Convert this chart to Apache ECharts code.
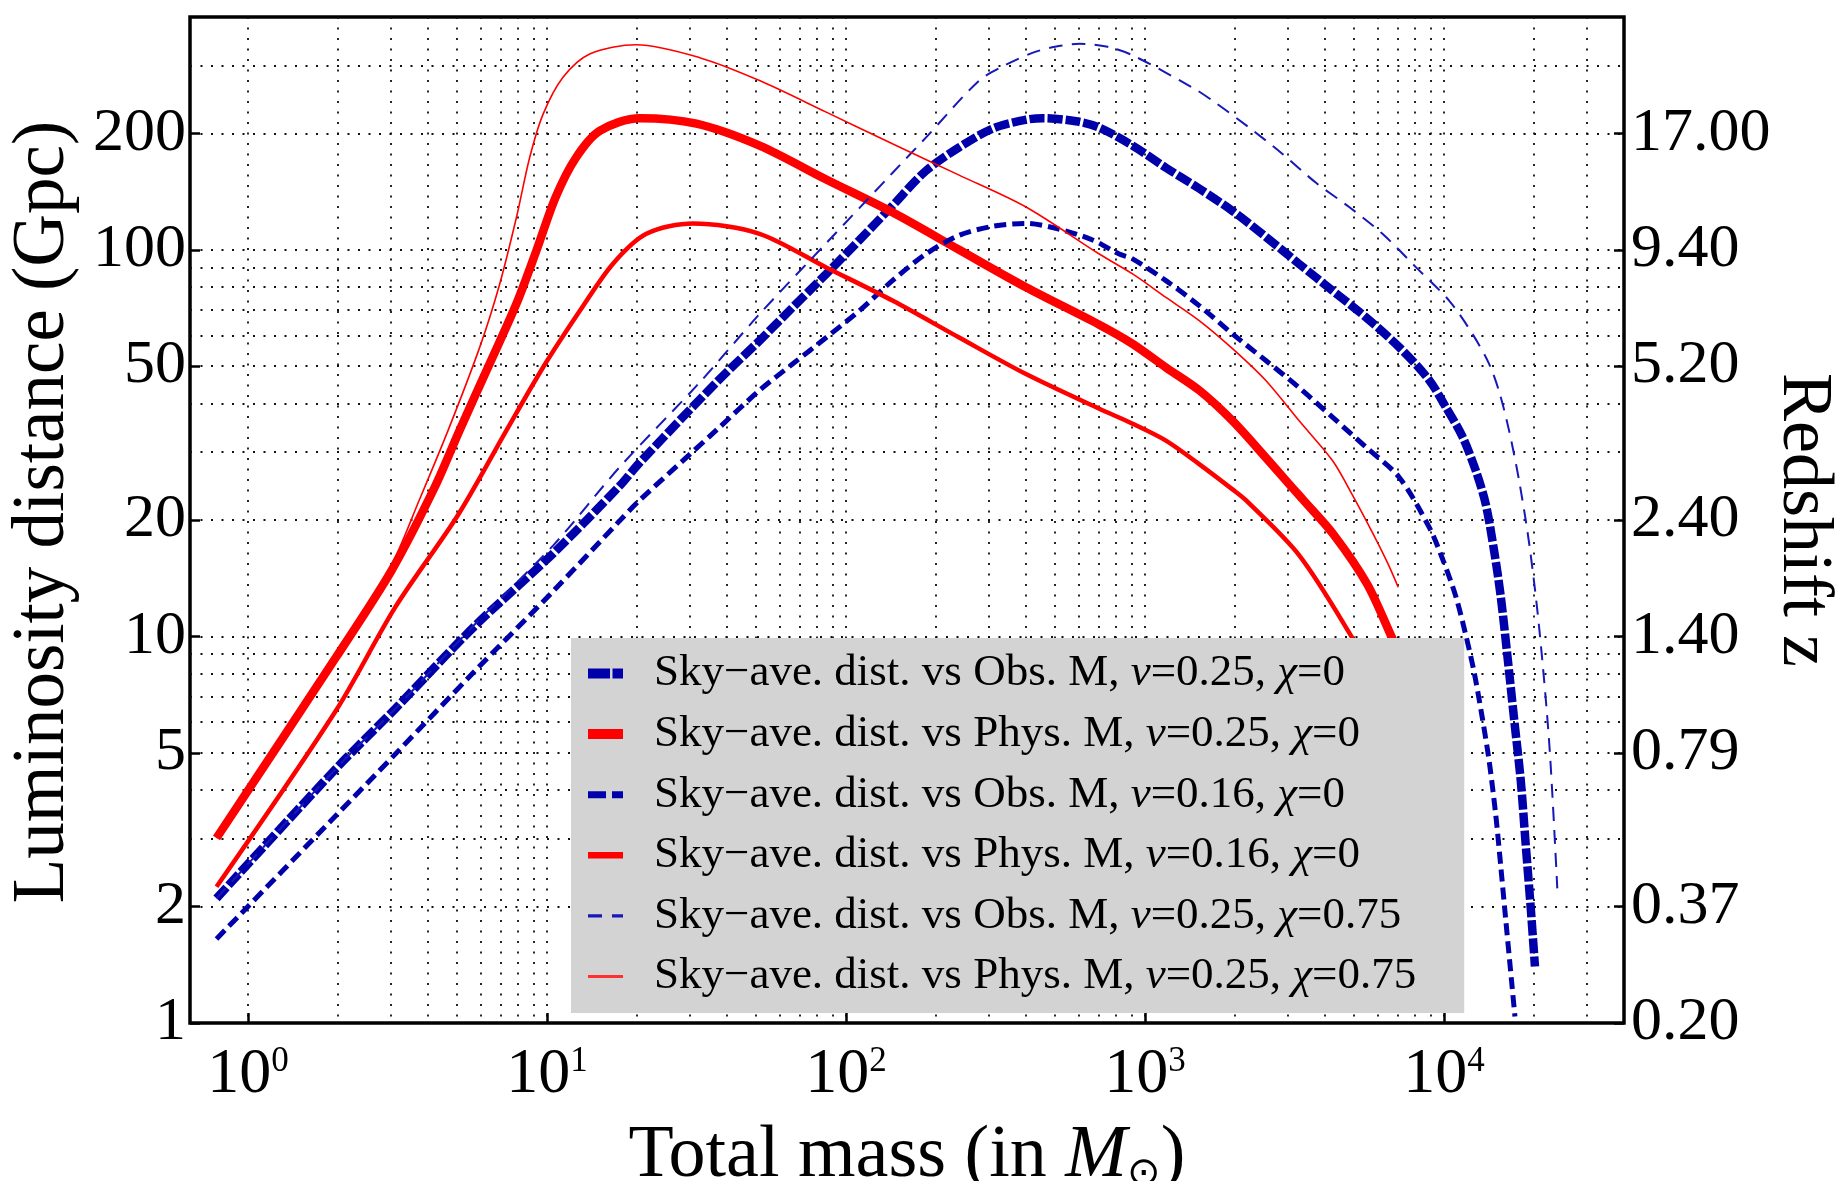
<!DOCTYPE html>
<html>
<head>
<meta charset="utf-8">
<script src="https://cdn.jsdelivr.net/npm/echarts@6/dist/echarts.min.js"></script>
<style>
  html, body { margin: 0; padding: 0; background: #fff; }
  #chart { width: 1835px; height: 1181px; }
</style>
</head>
<body>
<div id="chart"></div>
<script>
// Tick positions and labels
const distanceTicks = [1, 2, 5, 10, 20, 50, 100, 200];
const redshiftLabels = ['0.20', '0.37', '0.79', '1.40', '2.40', '5.20', '9.40', '17.00'];
const massTicks = [1, 10, 100, 1000, 10000];
const massGrid = [1, 2, 3, 4, 5, 6, 7, 8, 9, 10, 20, 30, 40, 50, 60, 70, 80, 90,
  100, 200, 300, 400, 500, 600, 700, 800, 900, 1000, 2000, 3000, 4000, 5000, 6000,
  7000, 8000, 9000, 10000, 20000, 30000];
const distanceGrid = [2, 3, 4, 5, 6, 7, 8, 9, 10, 20, 30, 40, 50, 60, 70, 80, 90, 100, 200, 300];

const seriesNames = [
  'Sky\u2212ave. dist. vs Obs. M, \u03bd=0.25, \u03c7=0',
  'Sky\u2212ave. dist. vs Phys. M, \u03bd=0.25, \u03c7=0',
  'Sky\u2212ave. dist. vs Obs. M, \u03bd=0.16, \u03c7=0',
  'Sky\u2212ave. dist. vs Phys. M, \u03bd=0.16, \u03c7=0',
  'Sky\u2212ave. dist. vs Obs. M, \u03bd=0.25, \u03c7=0.75',
  'Sky\u2212ave. dist. vs Phys. M, \u03bd=0.25, \u03c7=0.75'
];

// [total mass (Msun), sky-averaged luminosity distance (Gpc)]
const obsNu25Chi0 = [[0.785,2.10],[1.97,4.55],[3.11,6.5],[5.71,10.6],[10.5,16.4],[17.5,24.5],[20.3,28],
  [37.4,45.9],[51.4,58.2],[66.4,71],[85.9,86.6],[111,106],[143,130],[185,160],[239,184],[310,206],
  [400,217],[455,219],[588,215],[703,207],[909,186],[1175,163],[1518,144],[1962,126],[2536,108],
  [3278,91.9],[4237,78.4],[5479,66.9],[7080,56],[8910,46.1],[10140,39.2],[11520,32.9],[12760,26.9],
  [13790,22],[14700,16.7],[15480,12.7],[16290,8.93],[17150,6.14],[18070,4.22],[18760,2.9],
  [19500,1.99],[20150,1.40]];
const physNu25Chi0 = [[0.785,3.01],[1.97,8.83],[3.02,14.8],[4.2,24.2],[5.1,34.1],[6.43,50.7],[7.9,72.4],
  [9.22,99.5],[10.7,137],[12.5,173],[15,203],[20.4,219],[31.6,212],[51.4,186],[85.9,152],[143,125],
  [239,100],[400,80],[703,64],[909,57.1],[1175,49.6],[1518,43.3],[1962,36.1],[2536,29],[3100,24.3],
  [3390,22.5],[4260,18.4],[5550,13.6],[6750,9.8],[7500,8.3]];
const obsNu16Chi0 = [[0.785,1.65],[1.97,3.44],[3.11,4.96],[5.71,8.1],[10.5,13.1],[17.5,19.9],[20.3,22.4],
  [37.4,34.5],[51.4,43.3],[66.4,50.7],[85.9,59.3],[111,69.6],[143,83.2],[185,97.5],[239,109],[310,115],
  [400,117],[517,113],[668,106],[820,97.5],[909,94.7],[1175,83.2],[1518,71.7],[1962,60.6],[2536,51.7],
  [3278,44],[4237,36.9],[5479,30.9],[7080,25.8],[8910,19.2],[9880,15.9],[10950,12.7],[11820,10.1],
  [12610,8.09],[13440,6.14],[14150,4.78],[14900,3.45],[15480,2.55],[16100,1.84],[16710,1.36],[17270,1.04]];
const physNu16Chi0 = [[0.785,2.25],[1.97,6.43],[3.11,11.9],[5.06,20.7],[7.32,34.1],[9.7,49.6],[12.9,69.6],
  [16.6,91.9],[21.5,110],[30.8,117],[51.4,110],[85.9,90],[143,73.9],[239,59.3],[400,47.7],[703,38.8],
  [909,35.5],[1175,32.1],[1518,27.9],[1962,24],[2175,22.5],[3280,16.2],[4930,9.93],[6000,7.5]];
const obsNu25Chi75 = [[0.785,2.10],[1.97,4.55],[3.11,6.5],[5.71,10.7],[10.5,17.2],[17.5,27.4],[32.1,45],
  [51.4,68.2],[85.9,104],[143,158],[185,195],[279,274],[340,300],[420,323],[500,335],[605,341],
  [750,335],[912,318],[1439,263],[1683,243],[2232,207],[2884,177],[3733,149],[4817,129],[6226,110],
  [8050,90.2],[10400,73.9],[12450,60.6],[14150,50.7],[15330,42.7],[16560,33.7],[17880,25],
  [19310,17.2],[20860,10.35],[22520,5.22],[23930,2.23]];
const physNu25Chi75 = [[0.785,3.01],[1.97,8.83],[3.02,15.3],[3.73,22.4],[4.67,34.1],[5.96,56],[6.95,81.6],
  [7.9,121],[8.75,173],[9.7,224],[11.3,279],[13.9,321],[19.9,339],[32.4,314],[51.4,274],[85.9,227],
  [143,188],[239,156],[400,129],[703,97.5],[909,86.6],[1175,75.3],[1518,65.6],[1962,55.5],[2536,45.9],
  [3278,36.1],[4237,28.5],[4943,23.2],[5840,18.2],[6500,15.4],[7030,13.4]];

const SERIF = '"Liberation Serif", "Times New Roman", serif';
const BLUE = '#0000aa';
const BLUE_THIN = '#1818b8';
const RED = '#ff0000';
const gridDots = { color: '#111', width: 1.8, type: [2, 8.5] };

function curve(name, data, color, width, dash) {
  return {
    name, type: 'line', data, xAxisIndex: 0, yAxisIndex: 0,
    symbol: 'none', smooth: 0.3, silent: true,
    lineStyle: { color, width, type: dash || 'solid', cap: 'butt' },
    itemStyle: { color }
  };
}

// legend swatches: the key draws its own line widths and dash lengths
const legendItems = [
  { name: seriesNames[0], lineStyle: { width: 10, type: [22, 2.5], color: BLUE } },
  { name: seriesNames[1], lineStyle: { width: 10, type: 'solid', color: RED } },
  { name: seriesNames[2], lineStyle: { width: 7, type: [18, 6], color: BLUE } },
  { name: seriesNames[3], lineStyle: { width: 6.5, type: 'solid', color: RED } },
  { name: seriesNames[4], lineStyle: { width: 3.2, type: [14, 10], color: BLUE_THIN } },
  { name: seriesNames[5], lineStyle: { width: 3.2, type: 'solid', color: '#ff3030' } }
];

const chart = echarts.init(document.getElementById('chart'), null, { renderer: 'canvas' });
chart.setOption({
  animation: false,
  backgroundColor: '#fff',
  grid: {
    left: 190, right: 211, top: 17, bottom: 158, outerBoundsMode: 'none', containLabel: false,
    show: true, borderColor: '#000', borderWidth: 3.5, backgroundColor: 'transparent'
  },
  legend: {
    orient: 'vertical', left: 571, top: 638,
    backgroundColor: '#d3d3d3', padding: [13, 48, 14, 12],
    itemWidth: 35, itemHeight: 20, itemGap: 15.6,
    itemStyle: { opacity: 0 },
    selectedMode: false, data: legendItems,
    formatter: n => n.replace(/\u03bd/g, '{i|\u03bd}').replace(/\u03c7/g, '{i|\u03c7}'),
    textStyle: {
      fontFamily: SERIF, fontSize: 45, color: '#000', lineHeight: 44, padding: [0, 0, 0, 26],
      rich: { i: { fontFamily: SERIF, fontStyle: 'italic', fontSize: 45, lineHeight: 44, color: '#000' } }
    }
  },
  xAxis: [{
    type: 'log', logBase: 10, min: 0.64, max: 40000, position: 'bottom',
    axisLine: { show: false },
    axisTick: { inside: true, length: 10, customValues: massTicks, lineStyle: { color: '#000', width: 2.5 } },
    axisLabel: {
      customValues: massTicks, margin: 21, color: '#000',
      formatter: v => '{b|10}{sup|' + Math.round(Math.log10(v)) + '}',
      rich: {
        b: { fontFamily: SERIF, fontSize: 64, lineHeight: 62, color: '#000' },
        sup: { fontFamily: SERIF, fontSize: 35, lineHeight: 34, verticalAlign: 'top', color: '#000' }
      }
    },
    splitLine: { show: false },
    name: 'Total mass (in {i|M}{sub|\u2299})', nameLocation: 'middle', nameGap: 97, nameMoveOverlap: false,
    nameTextStyle: {
      fontFamily: SERIF, fontSize: 74, color: '#000',
      rich: {
        i: { fontFamily: SERIF, fontStyle: 'italic', fontSize: 74, color: '#000' },
        sub: { fontFamily: SERIF, fontSize: 40, color: '#000', verticalAlign: 'bottom', lineHeight: 42 }
      }
    }
  }, {
    type: 'log', logBase: 10, min: 0.64, max: 40000, position: 'top',
    axisLine: { show: false }, axisLabel: { show: false },
    axisTick: { show: false, customValues: massGrid },
    splitLine: { show: true, lineStyle: gridDots }
  }],
  yAxis: [{
    type: 'log', logBase: 10, min: 1, max: 400, position: 'left',
    axisLine: { show: false },
    axisTick: { inside: true, length: 10, customValues: distanceTicks, lineStyle: { color: '#000', width: 2.5 } },
    axisLabel: { customValues: distanceTicks, margin: 4, fontFamily: SERIF, fontSize: 62, color: '#000' },
    splitLine: { show: false },
    name: 'Luminosity distance (Gpc)', nameLocation: 'middle', nameGap: 110, nameMoveOverlap: false,
    nameTextStyle: { fontFamily: SERIF, fontSize: 73, color: '#000', padding: [0, 0, 0, 16] }
  }, {
    type: 'log', logBase: 10, min: 1, max: 400, position: 'right',
    axisLine: { show: false },
    axisTick: { inside: true, length: 10, customValues: distanceTicks, lineStyle: { color: '#000', width: 2.5 } },
    axisLabel: {
      customValues: distanceTicks, margin: 7, fontFamily: SERIF, fontSize: 62, color: '#000',
      formatter: v => redshiftLabels[distanceTicks.findIndex(t => Math.abs(t - v) / t < 1e-6)]
    },
    splitLine: { show: false },
    name: 'Redshift z', nameLocation: 'middle', nameGap: 143, nameRotate: -90, nameMoveOverlap: false,
    nameTextStyle: { fontFamily: SERIF, fontSize: 72, color: '#000' }
  }, {
    type: 'log', logBase: 10, min: 1, max: 400, position: 'left',
    axisLine: { show: false }, axisLabel: { show: false },
    axisTick: { show: false, customValues: distanceGrid },
    splitLine: { show: true, lineStyle: gridDots }
  }],
  series: [
    curve(seriesNames[0], obsNu25Chi0, BLUE, 8.5, [15, 3]),
    curve(seriesNames[1], physNu25Chi0, RED, 8.5),
    curve(seriesNames[2], obsNu16Chi0, BLUE, 5, [12, 6]),
    curve(seriesNames[3], physNu16Chi0, RED, 4.5),
    curve(seriesNames[4], obsNu25Chi75, BLUE_THIN, 2, [14, 9]),
    curve(seriesNames[5], physNu25Chi75, RED, 1.6)
  ]
});
</script>
</body>
</html>
